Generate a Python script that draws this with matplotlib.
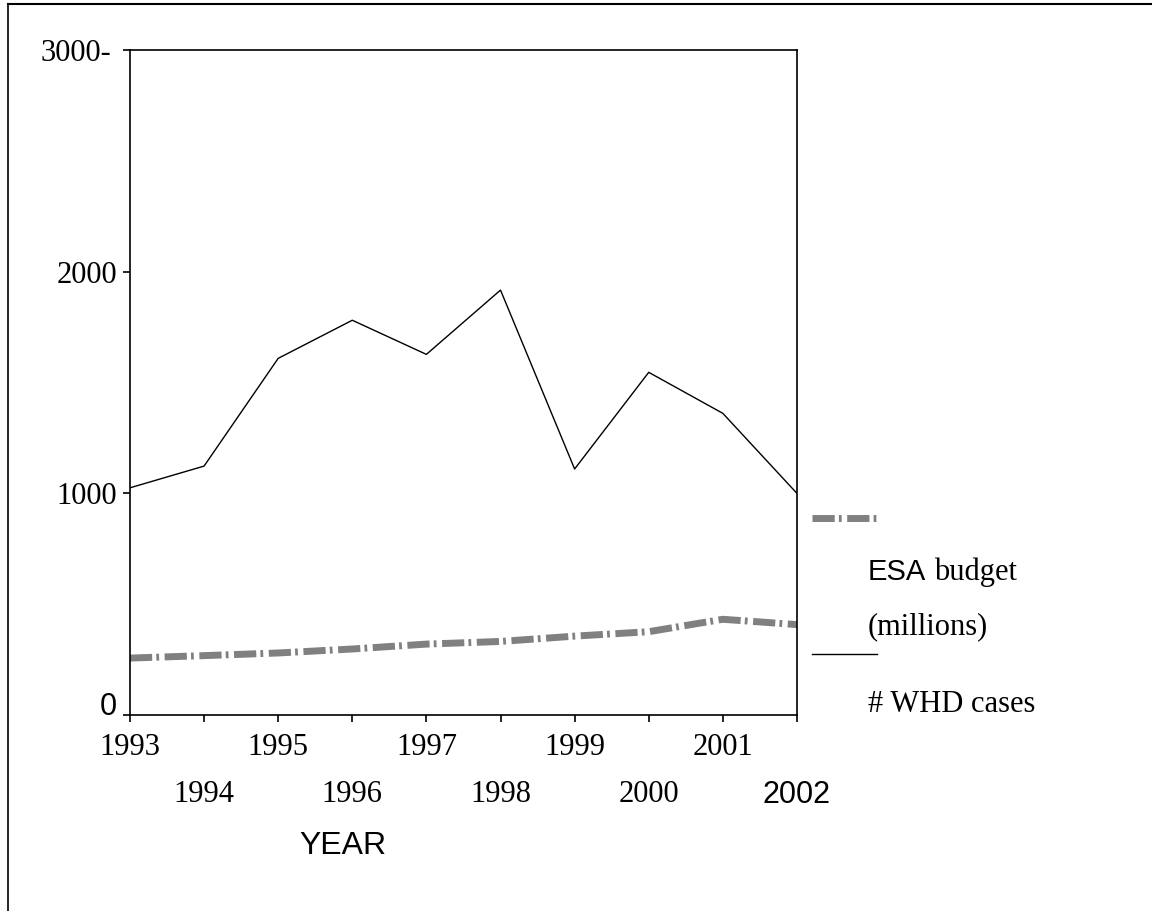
import matplotlib.pyplot as plt
from matplotlib.lines import Line2D

plt.rcParams['lines.scale_dashes'] = False

years = [1993, 1994, 1995, 1996, 1997, 1998, 1999, 2000, 2001, 2002]
whd_cases = [1025, 1123, 1609, 1781, 1627, 1917, 1110, 1546, 1361, 1000]
esa_budget = [257, 268, 280, 298, 320, 332, 356, 376, 432, 408]
y_ticks = [0, 1000, 2000, 3000]
y_labels = ['0', '1000', '2000', '3000-']

serif = 'Liberation Serif'
sans = 'Liberation Sans'
gray = '#808080'
dashdot = (0, (16, 3, 2, 4))

fig = plt.figure(figsize=(11.52, 9.11), dpi=100)
ax = fig.add_axes([0.1128, 0.2151, 0.5790, 0.7300])

ax.plot(years, whd_cases, color='black', lw=1.0)
ax.plot(years, esa_budget, color=gray, lw=5, linestyle=dashdot,
        solid_capstyle='butt', dash_capstyle='butt')

ax.set_xlim(1993, 2002)
ax.set_ylim(0, 3000)

# y axis
ax.set_yticks(y_ticks)
ax.set_yticklabels(y_labels, fontfamily=serif, fontsize=22)
ax.tick_params(axis='y', direction='out', length=5, width=1.2, pad=4.5)
ticks_y = ax.yaxis.get_major_ticks()
ticks_y[0].label1.set_fontfamily(sans)
ticks_y[0].label1.set_verticalalignment('baseline')
ticks_y[3].set_pad(8.5)

# x axis: odd years on the first row, even years below
ax.set_xticks(years[0::2])
ax.set_xticklabels([str(y) for y in years[0::2]], fontfamily=serif, fontsize=22)
ax.set_xticks(years[1::2], minor=True)
ax.set_xticklabels([str(y) for y in years[1::2]], minor=True,
                   fontfamily=serif, fontsize=22)
ax.tick_params(axis='x', which='both', direction='out', length=5, width=1.2)
ax.tick_params(axis='x', which='major', pad=8)
ax.tick_params(axis='x', which='minor', pad=42)
ax.xaxis.get_minor_ticks()[-1].label1.set_fontfamily(sans)
ax.set_xlabel('YEAR', fontfamily=sans, fontsize=23)
ax.xaxis.set_label_coords(0.32, -0.175)

for sp in ax.spines.values():
    sp.set_linewidth(1.2)

# legend drawn by hand to the right of the plot
fig.add_artist(Line2D([812 / 1152, 876 / 1152], [1 - 518 / 911] * 2,
                      color=gray, lw=5, linestyle=dashdot, dash_capstyle='butt'))
fig.add_artist(Line2D([812 / 1152, 877 / 1152], [1 - 654 / 911] * 2,
                      color='black', lw=1.0))
fig.text(868 / 1152, 1 - 572 / 911, 'ESA', fontfamily=sans, fontsize=21, va='center')
fig.text(934 / 1152, 1 - 572 / 911, 'budget', fontfamily=serif, fontsize=22, va='center')
fig.text(868 / 1152, 1 - 627 / 911, '(millions)', fontfamily=serif, fontsize=22, va='center')
fig.text(868 / 1152, 1 - 705 / 911, '# WHD cases', fontfamily=serif, fontsize=22, va='center')

# outer frame (top and left edges)
fig.add_artist(Line2D([8 / 1152, 1.0], [1 - 4 / 911] * 2, color='black', lw=1.5))
fig.add_artist(Line2D([8 / 1152] * 2, [0.0, 1 - 4 / 911], color='black', lw=1.2))

fig.savefig('out.png', dpi=100)
